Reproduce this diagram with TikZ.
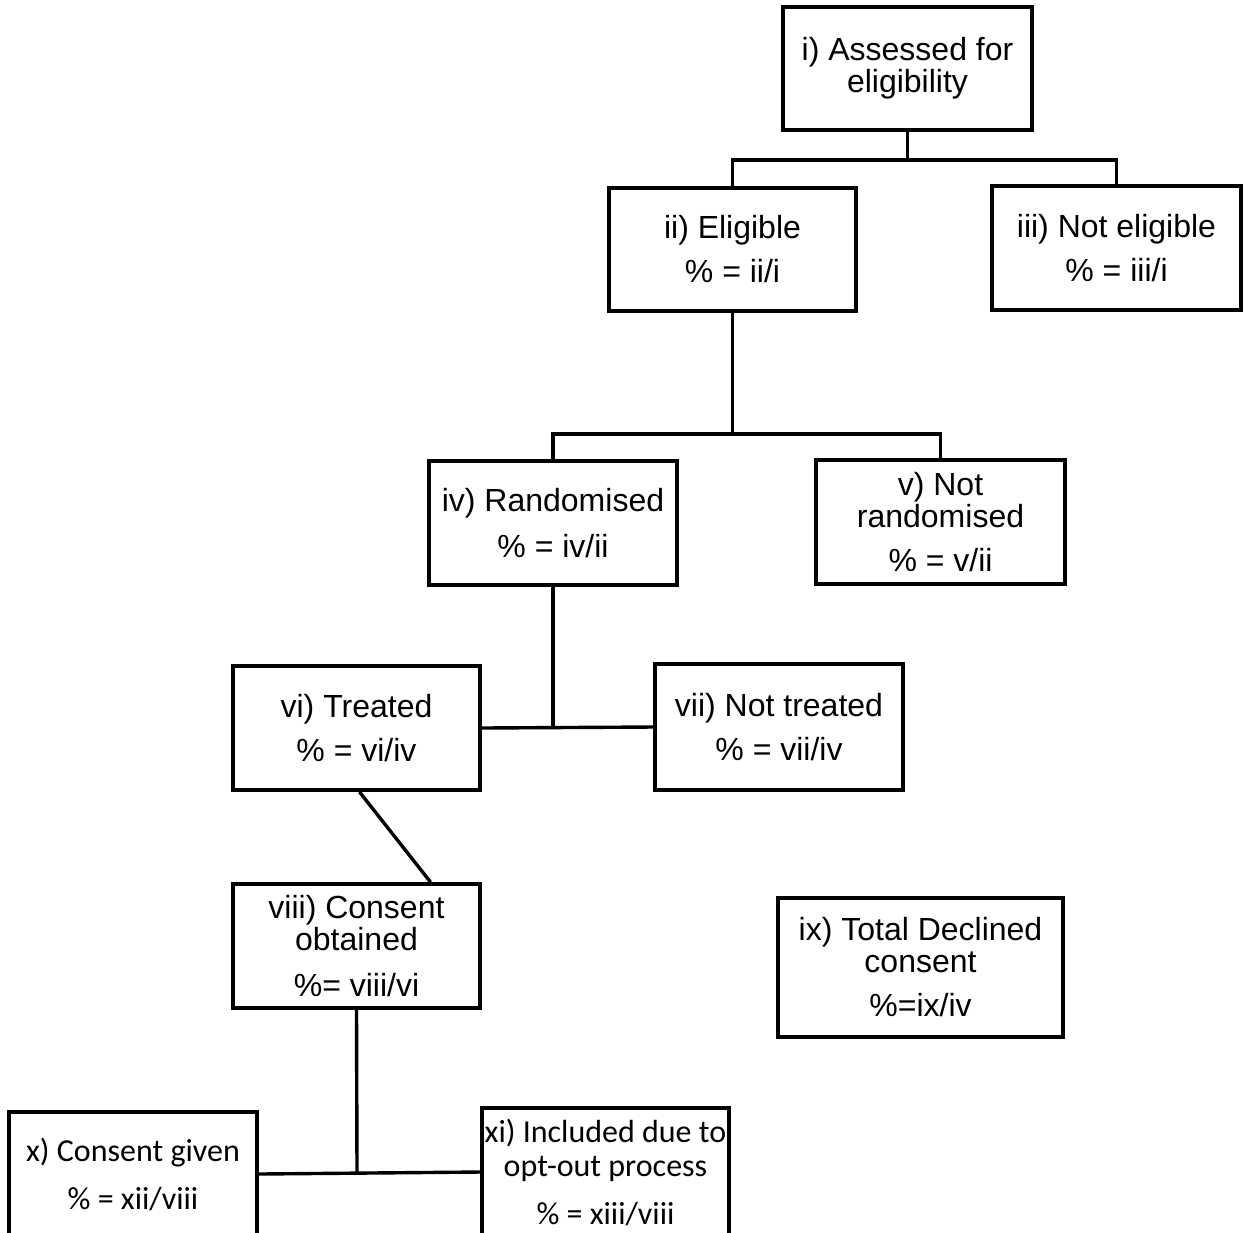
\documentclass[tikz,border=0pt]{standalone}
\usepackage{fontspec}
\setmainfont{Liberation Sans}
\newfontfamily\carlfont{Carlito}
\usetikzlibrary{calc}
\begin{document}
\begin{tikzpicture}[x=0.5pt,y=-0.5pt,
  boxnode/.style={draw, line width=1.9pt, inner sep=0pt, align=center,
    font=\fontsize{16}{16}\selectfont},
  boxc/.style={boxnode, font=\carlfont\fontsize{16}{17}\selectfont},
  link/.style={line width=1.7pt}]
\useasboundingbox (0,0) rectangle (1245,1232);
\clip (0,0) rectangle (1245,1232);
\fill[white] (0,0) rectangle (1245,1232);

\node[boxnode, minimum width=124.5pt, minimum height=61.5pt] (i) at (907.5,68.5) {i) Assessed for\\eligibility};
\node[boxnode, minimum width=123.5pt, minimum height=61.5pt] (ii) at (732.5,249.5) {ii) Eligible\\[6pt]\% = ii/i};
\node[boxnode, minimum width=124.5pt, minimum height=62pt] (iii) at (1116.5,248) {iii) Not eligible\\[6pt]\% = iii/i};
\node[boxnode, minimum width=124pt, minimum height=62pt] (iv) at (553,523) {iv) Randomised\\[7pt]\% = iv/ii};
\node[boxnode, minimum width=124.5pt, minimum height=62pt] (v) at (940.5,522) {v) Not\\randomised\\[6pt]\% = v/ii};
\node[boxnode, minimum width=123.5pt, minimum height=62pt] (vi) at (356.5,728) {vi) Treated\\[6pt]\% = vi/iv};
\node[boxnode, minimum width=124pt, minimum height=63pt] (vii) at (779,727) {vii) Not treated\\[6pt]\% = vii/iv};
\node[boxnode, minimum width=123.5pt, minimum height=62pt] (viii) at (356.5,946) {viii) Consent\\obtained\\[7pt]\%= viii/vi};
\node[boxnode, minimum width=142.5pt, minimum height=69.5pt] (ix) at (920.5,967.5) {ix) Total Declined\\consent\\[6pt]\%=ix/iv};
\node[boxc, minimum width=124pt, minimum height=62pt] (x) at (133,1174) {x) Consent given\\[7pt]\% = xii/viii};
\node[boxc, minimum width=123.5pt, minimum height=64pt] (xi) at (605.5,1172) {xi) Included due to\\opt-out process\\[7pt]\% = xiii/viii};

\coordinate (b1) at (907.5,160);
\coordinate (b2) at (732.5,434);
\coordinate (b3) at (553,727.5);
\coordinate (b4) at (357,1172);

\draw[link] (i.south) -- (b1);
\draw[link] (ii.north) |- (b1) -| (iii.north);
\draw[link] (ii.south) -- (b2);
\draw[link] (iv.north) |- (b2) -| (v.north);
\draw[link] (iv.south) -- (b3);
\draw[link] (vi.east) -- (vii.west);
\draw[link] ($(vi.south)+(3,0)$) -- ($(viii.north)+(74,0)$);
\draw[link] (viii.south) -- (b4);
\draw[link] (x.east) -- (xi.west);
\end{tikzpicture}
\end{document}
